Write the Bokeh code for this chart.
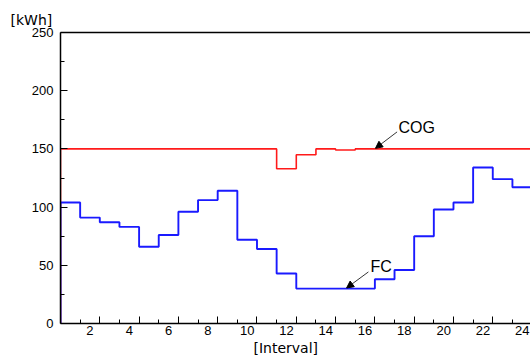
from bokeh.plotting import figure
from bokeh.models import (Range1d, LinearAxis, FixedTicker, Label, Arrow, NormalHead, Title)
from bokeh.embed import file_html
from bokeh.resources import INLINE

# ---- data ----
intervals = list(range(1, 25))
fc = [104, 91, 87, 83, 66, 76, 96, 106, 114, 72, 64, 43,
      30, 30, 30, 30, 38, 46, 75, 98, 104, 134, 124, 117]
cog = [150, 150, 150, 150, 150, 150, 150, 150, 150, 150, 150, 133,
       145, 150, 149, 150, 150, 150, 150, 150, 150, 150, 150, 150]
x_tick_labels = [2, 4, 6, 8, 10, 12, 14, 16, 18, 20, 22, 24]
y_ticks = [0, 50, 100, 150, 200, 250]
y_minor = [25, 75, 125, 175, 225]


def step_path(vals):
    xs, ys = [0], [0]
    for i, v in zip(intervals, vals):
        xs += [i - 1, i]
        ys += [v, v]
    return xs, ys


FONT = "Liberation Sans"

p = figure(width=530, height=358, output_backend="svg", toolbar_location=None,
           x_range=Range1d(0, 23.92), y_range=Range1d(0, 250),
           x_axis_location=None, y_axis_location=None,
           min_border_left=60, min_border_right=0, min_border_top=32,
           min_border_bottom=35)
p.extra_x_ranges = {"lab": Range1d(0.5, 24.42)}
p.grid.visible = False
p.outline_line_color = None
p.background_fill_color = "white"
p.border_fill_color = "white"

# y axis
ya = LinearAxis(ticker=FixedTicker(ticks=y_ticks, minor_ticks=y_minor))
ya.major_tick_in = 7
ya.major_tick_out = 0
ya.minor_tick_in = 4
ya.minor_tick_out = 0
ya.axis_line_width = 1.5
ya.major_label_text_font = FONT
ya.major_label_text_font_size = "13px"
ya.major_label_text_color = "black"
ya.major_label_standoff = 7
p.add_layout(ya, "left")

# x axis: ticks at interval boundaries (no labels)
xa = LinearAxis(ticker=FixedTicker(ticks=[t for t in x_tick_labels],
                                   minor_ticks=[t - 1 for t in x_tick_labels]))
xa.major_tick_in = 7
xa.major_tick_out = 0
xa.minor_tick_in = 4
xa.minor_tick_out = 0
xa.axis_line_width = 1.5
xa.major_label_text_font_size = "0px"
xa.major_label_text_color = None
xa.major_label_standoff = 0
p.add_layout(xa, "below")

# x axis labels centred in the intervals
xl = LinearAxis(x_range_name="lab", ticker=FixedTicker(ticks=x_tick_labels, minor_ticks=[]))
xl.axis_line_color = None
xl.major_tick_line_color = None
xl.major_tick_in = 0
xl.major_tick_out = 0
xl.major_label_text_font = FONT
xl.major_label_text_font_size = "13px"
xl.major_label_text_color = "black"
xl.major_label_standoff = 2
p.add_layout(xl, "below")

# top frame line
ta = LinearAxis(ticker=FixedTicker(ticks=[]))
ta.axis_line_width = 1.5
ta.major_label_text_font_size = "0px"
ta.major_label_text_color = None
ta.major_tick_out = 0
ta.minor_tick_out = 0
ta.major_label_standoff = 0
p.add_layout(ta, "above")

# axis titles
p.add_layout(Title(text="[kWh]", align="left", offset=-50, standoff=7,
                   vertical_align="middle",
                   text_font="DejaVu Sans", text_font_size="14px",
                   text_font_style="normal", text_color="black"), "above")
p.add_layout(Title(text="[Interval]", align="left", offset=193, standoff=0,
                   text_font="DejaVu Sans", text_font_size="14px",
                   text_font_style="normal", text_color="black"), "below")

# series
cx, cy = step_path(cog)
fx, fy = step_path(fc)
p.line(cx, cy, line_color="#ff1a1a", line_width=1.6)
p.line(fx, fy, line_color="#1a1aff", line_width=1.9)

# annotations
p.add_layout(Label(x=17.2, y=168, text="COG", text_font=FONT, text_font_size="16px",
                   text_baseline="middle", text_align="left", text_color="black"))
p.add_layout(Label(x=15.78, y=48.8, text="FC", text_font=FONT, text_font_size="16px",
                   text_baseline="middle", text_align="left", text_color="black"))
p.add_layout(Arrow(x_start=17.13, y_start=164.6, x_end=16.03, y_end=150.5,
                   line_width=0.8, line_color="black",
                   end=NormalHead(size=7, fill_color="black", line_color="black")))
p.add_layout(Arrow(x_start=15.67, y_start=44.3, x_end=14.56, y_end=30.5,
                   line_width=0.8, line_color="black",
                   end=NormalHead(size=7, fill_color="black", line_color="black")))

open("out.html", "w").write(file_html(p, INLINE))
